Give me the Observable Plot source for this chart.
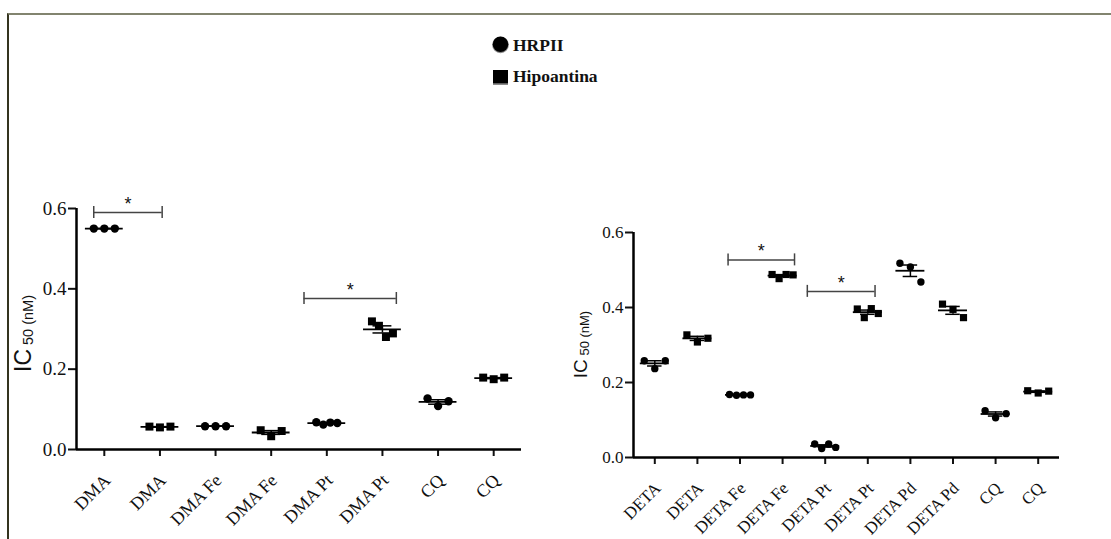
<!DOCTYPE html>
<html><head><meta charset="utf-8">
<script src="https://cdn.jsdelivr.net/npm/d3@7"></script>
<script src="https://cdn.jsdelivr.net/npm/@observablehq/plot@0.6"></script>
<style>
html,body{margin:0;padding:0;background:#fff;width:1111px;height:539px;overflow:hidden;position:relative}
#frame{position:absolute;left:7px;top:13px;width:1200px;height:600px;border-top:2px solid #82846f;border-left:2px solid #34341f;}
#left{position:absolute;left:0;top:180px}
#right{position:absolute;left:545px;top:180px}
#legend{position:absolute;left:480px;top:28px;overflow:visible;font-family:"Liberation Serif",serif}
</style></head><body>
<div id="frame"></div>
<svg id="legend" width="160" height="70"></svg>
<div id="left"></div><div id="right"></div>
<script>
// ---- data ----
const seriesNames = ["HRPII", "Hipoantina"];
const yTicks = [0, 0.2, 0.4, 0.6];

const dmaCategories = ["DMA", "DMA", "DMA Fe", "DMA Fe", "DMA Pt", "DMA Pt", "CQ", "CQ"];
const dmaSeries = ["HRPII", "Hipoantina", "HRPII", "Hipoantina", "HRPII", "Hipoantina", "HRPII", "Hipoantina"];
const dmaValues = [
  [0.550, 0.550, 0.550],
  [0.057, 0.055, 0.057],
  [0.058, 0.058, 0.058],
  [0.048, 0.033, 0.046],
  [0.068, 0.062, 0.067, 0.066],
  [0.319, 0.308, 0.280, 0.289],
  [0.127, 0.108, 0.120],
  [0.179, 0.175, 0.179]
];
const dmaBracketFrom = [-0.19, 3.59];
const dmaBracketTo = [1.04, 5.25];
const dmaBracketLevel = [0.590, 0.376];

const detaCategories = ["DETA", "DETA", "DETA Fe", "DETA Fe", "DETA Pt", "DETA Pt", "DETA Pd", "DETA Pd", "CQ", "CQ"];
const detaSeries = ["HRPII", "Hipoantina", "HRPII", "Hipoantina", "HRPII", "Hipoantina", "HRPII", "Hipoantina", "HRPII", "Hipoantina"];
const detaValues = [
  [0.258, 0.237, 0.258],
  [0.327, 0.308, 0.318],
  [0.168, 0.166, 0.167, 0.167],
  [0.488, 0.477, 0.488, 0.487],
  [0.036, 0.024, 0.036, 0.027],
  [0.396, 0.373, 0.397, 0.384],
  [0.518, 0.508, 0.468],
  [0.409, 0.395, 0.373],
  [0.125, 0.106, 0.117],
  [0.178, 0.172, 0.177]
];
const detaBracketFrom = [1.72, 3.58];
const detaBracketTo = [3.28, 5.17];
const detaBracketLevel = [0.527, 0.443];

// ---- panel builder ----
function panel(cfg) {
  const {categories, series, values, bFrom, bTo, bLevel, width, height,
    marginLeft, marginRight, marginTop, marginBottom, rc, rs, tickFont, catFont,
    icSize, subSize, labelX, labelY} = cfg;
  const n = categories.length;
  const step = (width - marginLeft - marginRight) / n;
  const yMax = d3.max(yTicks);
  const pxPerUnit = (height - marginTop - marginBottom) / yMax;
  const spread = 10.5 / step;
  const points = [], stats = [];
  values.forEach((vals, i) => {
    const m = vals.length;
    vals.forEach((v, j) => points.push({x: i + (j - (m - 1) / 2) * 2 * spread / (m - 1), v, s: series[i]}));
    const mean = d3.mean(vals);
    const sem = d3.deviation(vals) / Math.sqrt(m);
    stats.push({i, mean, sem});
  });
  const caps = stats.flatMap(d => [{i: d.i, y: d.mean - d.sem}, {i: d.i, y: d.mean + d.sem}]);
  const brackets = bFrom.map((f, k) => ({from: f, to: bTo[k], y: bLevel[k]}));
  const bEnds = brackets.flatMap(b => [{x: b.from, y: b.y}, {x: b.to, y: b.y}]);
  const capH = 6 / pxPerUnit;

  const svg = Plot.plot({
    width, height, marginLeft, marginRight, marginTop, marginBottom,
    style: {"background": "transparent", "overflow": "visible", "color": "#111",
      "font-family": "Liberation Serif", "font-size": tickFont + "px"},
    x: {type: "linear", domain: [-0.5, n - 0.5]},
    y: {domain: [0, yMax]},
    marks: [
      Plot.axisY({ticks: yTicks, tickFormat: d3.format(".1f"), tickSize: 8, tickPadding: 2,
        fontSize: tickFont, strokeWidth: 2, label: null}),
      Plot.axisX({ticks: d3.range(n), tickSize: 7, tickFormat: () => "", strokeWidth: 2, label: null}),
      Plot.ruleY([0], {strokeWidth: 2.5, stroke: "#000"}),
      Plot.ruleX([-0.5], {y1: 0, y2: yMax, strokeWidth: 2.5, stroke: "#000"}),
      Plot.text(categories, {x: (d, i) => i, y: () => 0, text: d => d, rotate: -45,
        textAnchor: "end", dx: 3, dy: 28,
        fontSize: catFont, fill: "#111"}),
      Plot.dot(points.filter(p => p.s === seriesNames[0]), {x: "x", y: "v", symbol: "circle", r: rc, fill: "#000", stroke: "none"}),
      Plot.dot(points.filter(p => p.s === seriesNames[1]), {x: "x", y: "v", symbol: "square", r: rs, fill: "#000", stroke: "none"}),
      Plot.ruleY(stats, {y: "mean", x1: d => d.i - 0.34, x2: d => d.i + 0.34, strokeWidth: 1.8, stroke: "#000"}),
      Plot.ruleX(stats, {x: "i", y1: d => d.mean - d.sem, y2: d => d.mean + d.sem, strokeWidth: 1.5, stroke: "#000"}),
      Plot.ruleY(caps, {y: "y", x1: d => d.i - 0.17, x2: d => d.i + 0.17, strokeWidth: 1.5, stroke: "#000"}),
      Plot.ruleY(brackets, {y: "y", x1: "from", x2: "to", stroke: "#444", strokeWidth: 1.5}),
      Plot.ruleX(bEnds, {x: "x", y1: d => d.y - capH, y2: d => d.y + capH, stroke: "#444", strokeWidth: 1.5}),
      Plot.text(brackets, {x: d => (d.from + d.to) / 2, y: "y", text: () => "*", dy: -8.5,
        fontSize: 18, fontFamily: "Liberation Sans", fill: "#111"})
    ]
  });
  const s = d3.select(svg);
  const t = s.append("text")
    .attr("transform", `translate(${labelX},${labelY}) rotate(-90)`)
    .attr("text-anchor", "middle")
    .attr("font-family", "Liberation Sans")
    .attr("fill", "#111");
  t.append("tspan").attr("font-size", icSize).text("IC");
  t.append("tspan").attr("font-size", subSize).attr("dy", 2).text(" 50 (nM)");
  return svg;
}

document.getElementById("left").appendChild(panel({
  categories: dmaCategories, series: dmaSeries, values: dmaValues,
  bFrom: dmaBracketFrom, bTo: dmaBracketTo, bLevel: dmaBracketLevel,
  width: 545, height: 359, marginLeft: 76, marginRight: 24, marginTop: 28, marginBottom: 90,
  rc: 4.2, rs: 4.5, tickFont: 19, catFont: 18, icSize: 23, subSize: 14.5, labelX: 30.5, labelY: 153.5
}));
document.getElementById("right").appendChild(panel({
  categories: detaCategories, series: detaSeries, values: detaValues,
  bFrom: detaBracketFrom, bTo: detaBracketTo, bLevel: detaBracketLevel,
  width: 566, height: 359, marginLeft: 88, marginRight: 52, marginTop: 52, marginBottom: 82,
  rc: 3.7, rs: 4.05, tickFont: 17, catFont: 17, icSize: 19, subSize: 13, labelX: 41.7, labelY: 164.5
}));

// ---- legend ----
const lg = d3.select("#legend");
lg.append("circle").attr("cx", 20.5).attr("cy", 17).attr("r", 8.3).attr("fill", "#8a8a8a");
lg.append("circle").attr("cx", 20.5).attr("cy", 16.3).attr("r", 7.8).attr("fill", "#000");
lg.append("rect").attr("x", 13).attr("y", 42).attr("width", 15).attr("height", 15).attr("fill", "#8a8a8a");
lg.append("rect").attr("x", 13).attr("y", 42).attr("width", 15).attr("height", 13.3).attr("fill", "#000");
lg.selectAll("text.l").data(seriesNames).join("text")
  .attr("x", 33).attr("y", (d, i) => i === 0 ? 23 : 53.5)
  .attr("font-family", "Liberation Serif").attr("font-weight", "bold").attr("font-size", 17.5)
  .attr("fill", "#111").text(d => d);
</script>
</body></html>
